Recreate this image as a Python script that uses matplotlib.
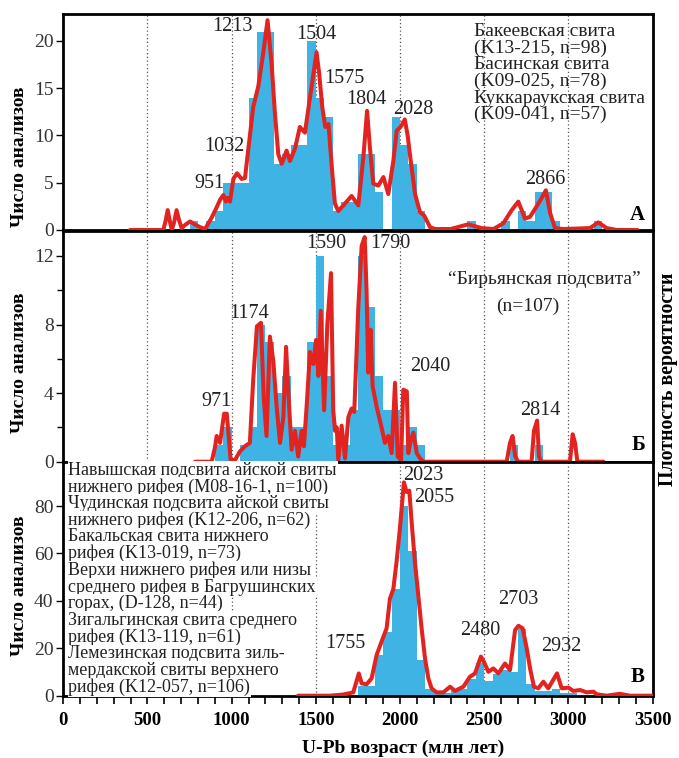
import matplotlib
matplotlib.use('Agg')
import matplotlib.pyplot as plt

# Шрифт с засечками, как в публикации
plt.rcParams['font.family'] = ['Liberation Serif', 'DejaVu Serif']

# ---------- Панель А: Бакеевская, Басинская, Куккараукская свиты ----------
a_bin_left = [750, 850, 900, 950, 1000, 1050, 1100, 1150, 1200, 1250, 1300, 1350,
              1400, 1450, 1500, 1550, 1600, 1650, 1700, 1750, 1800, 1850, 1950,
              2000, 2050, 2100, 2400, 2600, 2700, 2750, 2800, 2850, 2900, 3150]
a_counts = [1, 1, 2, 5, 5, 5, 14, 21, 21, 7, 8, 9,
            9, 20, 14, 12, 2, 3, 3, 8, 8, 4, 12,
            9, 7, 2, 1, 1, 2, 1, 4, 4, 1, 1]
a_kde_age = [396, 594, 608, 620, 632, 644, 658, 673, 688, 703, 728, 753, 780, 812,
             842, 881, 911, 931, 951, 965, 975, 990, 1010, 1032, 1059, 1079, 1105,
             1128, 1158, 1188, 1213, 1237, 1257, 1277, 1297, 1326, 1346, 1376, 1405,
             1435, 1465, 1504, 1520, 1538, 1556, 1575, 1593, 1613, 1633, 1663, 1712,
             1752, 1782, 1804, 1821, 1841, 1871, 1901, 1930, 1960, 1980, 2003, 2028,
             2045, 2062, 2089, 2118, 2144, 2178, 2207, 2300, 2405, 2484, 2554, 2613,
             2663, 2702, 2742, 2772, 2811, 2835, 2866, 2891, 2920, 2970, 3128, 3177,
             3227, 3286, 3410]
a_kde_val = [0, 0, 1.0, 2.1, 1.0, 0, 0.8, 2.1, 1.0, 0.2, 0.6, 0.9, 0.6, 0.3,
             0.1, 1.3, 2.4, 3.2, 3.7, 3.0, 3.4, 3.0, 5.4, 6.0, 5.4, 5.5, 9.5,
             13.0, 15.2, 18.8, 22.2, 17.6, 12.3, 8.0, 7.0, 8.4, 7.3, 8.6, 10.9,
             10.3, 14.0, 18.8, 16.5, 13.0, 10.9, 11.2, 7.0, 2.8, 2.0, 2.6, 3.6,
             2.6, 7.7, 12.6, 8.7, 4.9, 4.7, 5.6, 3.8, 7.3, 10.5, 10.9, 11.7,
             10.0, 7.5, 3.8, 1.9, 1.5, 0.3, 0.1, 0.1, 0.6, 0.2, 0.1, 0.7,
             2.1, 3.0, 1.2, 1.4, 2.5, 3.2, 4.2, 1.8, 0.2, 0.1, 0.2, 0.8,
             0.2, 0, 0]
a_peaks = ['951', '1032', '1213', '1504', '1575', '1804', '2028', '2866']
a_legend = ['Бакеевская свита', '(K13-215, n=98)', 'Басинская свита',
            '(K09-025, n=78)', 'Куккараукская свита', '(K09-041, n=57)']

# ---------- Панель Б: "Бирьянская подсвита" ----------
b_bin_left = [900, 950, 1050, 1100, 1150, 1200, 1250, 1300, 1350, 1400, 1450, 1500,
              1550, 1600, 1650, 1700, 1750, 1800, 1850, 1900, 1950, 2000, 2050, 2100,
              2650, 2800]
b_counts = [1, 2, 1, 2, 8, 7, 4, 5, 2, 2, 7, 12,
            5, 1, 1, 3, 12, 9, 5, 3, 3, 1, 2, 1,
            1, 1]
b_kde_age = [782, 881, 900, 911, 931, 955, 971, 994, 1020, 1049, 1079, 1108, 1128,
             1150, 1174, 1190, 1207, 1227, 1247, 1267, 1287, 1307, 1323, 1338, 1356,
             1376, 1395, 1415, 1429, 1445, 1465, 1485, 1501, 1515, 1529, 1549, 1568,
             1590, 1603, 1614, 1624, 1633, 1653, 1673, 1693, 1712, 1728, 1752, 1772,
             1790, 1801, 1811, 1825, 1837, 1861, 1890, 1910, 1930, 1950, 1970, 1986,
             2006, 2019, 2040, 2049, 2065, 2079, 2099, 2118, 2138, 2633, 2653, 2668,
             2684, 2702, 2781, 2795, 2814, 2825, 2840, 3009, 3025, 3039, 3053, 3208]
b_kde_val = [0, 0, 0.8, 1.5, 1.1, 2.8, 2.8, 0.1, 0.1, 0.6, 0.9, 1.1, 4.8,
             7.9, 8.1, 3.8, 1.5, 7.3, 5.9, 3.2, 1.1, 2.6, 6.7, 3.8, 0.7,
             1.8, 0.3, 1.8, 0.9, 3.2, 6.4, 5.7, 7.1, 5.0, 8.8, 3.0, 8.0,
             11.0, 3.0, 1.8, 2.0, 0.1, 2.1, 0.2, 2.6, 3.1, 2.9, 9.0, 12.6,
             13.1, 10.0, 5.2, 7.7, 4.4, 3.2, 2.0, 1.1, 1.5, 0.5, 4.6, 0.3,
             0.1, 4.2, 4.1, 0.5, 1.3, 1.7, 0.5, 0.2, 0, 0, 1.1, 1.5,
             0.3, 0, 0, 1.8, 2.4, 0.3, 0, 0, 1.6, 1.1, 0, 0]
b_peaks = ['971', '1174', '1590', '1790', '2040', '2814']

# ---------- Панель В: рифейские толщи ----------
v_bin_left = [1750, 1800, 1850, 1900, 1950, 2000, 2050, 2100, 2150, 2200, 2250, 2300,
              2350, 2400, 2450, 2500, 2550, 2600, 2650, 2700, 2750, 2800, 2850, 2900,
              2950, 3000]
v_counts = [4, 4, 17, 27, 45, 80, 61, 15, 3, 1, 1, 2,
            3, 7, 14, 6, 9, 11, 10, 28, 5, 2, 2, 3,
            1, 1]
v_kde_age = [1394, 1584, 1663, 1722, 1755, 1772, 1801, 1831, 1861, 1890, 1920, 1940,
             1960, 1980, 1999, 2023, 2038, 2055, 2069, 2088, 2108, 2128, 2148, 2168,
             2187, 2217, 2257, 2297, 2326, 2376, 2415, 2445, 2480, 2498, 2524, 2554,
             2584, 2623, 2653, 2683, 2703, 2728, 2752, 2772, 2795, 2821, 2851, 2880,
             2932, 2960, 3000, 3029, 3069, 3108, 3148, 3168, 3227, 3306, 3365, 3500]
v_kde_val = [0, 0, 0.5, 1.4, 9.4, 5.2, 4.8, 7.3, 17.2, 22.8, 28.4, 41,
             45, 57, 70.6, 90, 86, 86.5, 73, 56.5, 42.5, 28.4, 15.8, 7.3,
             3.1, 1.4, 1.4, 3.8, 2.0, 3.8, 8.0, 9.4, 16.5, 14.3, 10.1, 11.5,
             9.4, 13.6, 10.8, 27.7, 29.5, 28.4, 20, 11.5, 3.8, 3.1, 5.9, 3.1,
             9.4, 3.1, 3.4, 2.0, 2.4, 1.4, 1.7, 0.6, 0, 0.8, 0, 0]
v_peaks = ['1755', '2023', '2055', '2480', '2703', '2932']
v_legend = ['Навышская подсвита айской свиты',
            'нижнего рифея (M08-16-1, n=100)',
            'Чудинская подсвита айской свиты',
            'нижнего рифея (K12-206, n=62)',
            'Бакальская свита нижнего',
            'рифея (K13-019, n=73)',
            'Верхи нижнего рифея или низы',
            'среднего рифея в Багрушинских',
            'горах, (D-128, n=44)',
            'Зигальгинская свита среднего',
            'рифея (K13-119, n=61)',
            'Лемезинская подсвита зиль-',
            'мердакской свиты верхнего',
            'рифея (K12-057, n=106)']

bar_color = '#3fb4e4'
line_color = '#e2231f'
text_color = '#222222'

fig = plt.figure(figsize=(6.79, 7.58), dpi=100)
axA = fig.add_axes([0.0932, 0.6966, 0.868, 0.285])
axB = fig.add_axes([0.0932, 0.3909, 0.868, 0.3044])
axV = fig.add_axes([0.0932, 0.0822, 0.868, 0.3083])


def draw_panel(ax, bin_left, counts, kde_age, kde_val, ymax):
    # пунктирная сетка через 500 млн лет
    for g in range(500, 3500, 500):
        ax.axvline(g, color='#555555', lw=0.9, ls=(0, (1, 2)), zorder=0.5)
    ax.bar(bin_left, counts, width=50, align='edge', color=bar_color,
           linewidth=0, zorder=1)
    ax.plot(kde_age, kde_val, color=line_color, lw=2.9, zorder=3,
            solid_joinstyle='round', solid_capstyle='round')
    ax.set_xlim(0, 3500)
    ax.set_ylim(0, ymax)
    for s in ax.spines.values():
        s.set_linewidth(2.0)
    ax.tick_params(axis='y', direction='out', length=5, width=1,
                   labelsize=14, labelcolor='#333333', pad=2)


draw_panel(axA, a_bin_left, a_counts, a_kde_age, a_kde_val, 22.86)
draw_panel(axB, b_bin_left, b_counts, b_kde_age, b_kde_val, 13.46)
draw_panel(axV, v_bin_left, v_counts, v_kde_age, v_kde_val, 98.6)

axA.set_yticks([0, 5, 10, 15, 20])
axB.set_yticks([0, 4, 8, 12])
axB.set_yticks([2, 6, 10], minor=True)
axB.tick_params(axis='y', which='minor', direction='out', length=4, width=1)
axV.set_yticks([0, 20, 40, 60, 80])

for ax in (axA, axB):
    ax.set_xticks([])

axV.set_xticks(range(0, 3501, 500))
axV.set_xticks(range(0, 3501, 100), minor=True)
axV.tick_params(axis='x', which='both', direction='out', length=6, width=1.2)
axV.tick_params(axis='x', which='major', labelsize=13.5, pad=6)
for lbl in axV.get_xticklabels():
    lbl.set_fontweight('bold')

# подписи пиков
a_pos = [(866, 4.9), (954, 8.8), (1005, 21.5), (1500, 20.7), (1667, 16.0),
         (1802, 13.8), (2079, 12.7), (2860, 5.3)]
for t, (x, y) in zip(a_peaks, a_pos):
    axA.text(x, y, t, ha='center', va='center', fontsize=14.5, color=text_color, zorder=4)

b_pos = [(907, 3.5), (1103, 8.66), (1563, 12.7), (1940, 12.7), (2178, 5.54), (2831, 3.0)]
for t, (x, y) in zip(b_peaks, b_pos):
    axB.text(x, y, t, ha='center', va='center', fontsize=14.5, color=text_color, zorder=4)

v_pos = [(1673, 22.1), (2138, 93.0), (2204, 83.5), (2475, 27.3), (2703, 40.4), (2958, 20.7)]
for t, (x, y) in zip(v_peaks, v_pos):
    axV.text(x, y, t, ha='center', va='center', fontsize=14.5, color=text_color, zorder=4)

# подписи проб
for i, t in enumerate(a_legend):
    axA.text(2439, 21.0 - i * 1.76, t, ha='left', va='center', fontsize=14,
             color=text_color)
axB.text(2854, 10.6, '\u201cБирьянская подсвита\u201d', ha='center', va='center',
         fontsize=14, color=text_color)
axB.text(2757, 9.04, '(n=107)', ha='center', va='center', fontsize=14, color=text_color)
for i, t in enumerate(v_legend):
    axV.text(30, 95.2 - i * 7.05, t, ha='left', va='center', fontsize=13,
             color=text_color, zorder=5,
             bbox=dict(facecolor='white', edgecolor='none', pad=0.5))

# буквенные обозначения панелей
axA.text(3410, 1.6, 'А', ha='center', va='center', fontsize=15, fontweight='bold')
axB.text(3416, 0.97, 'Б', ha='center', va='center', fontsize=15, fontweight='bold')
axV.text(3413, 8.0, 'В', ha='center', va='center', fontsize=15, fontweight='bold')

# подписи осей
for yc in (157, 363, 586):
    fig.text(20 / 679, 1 - yc / 758, 'Число анализов', rotation=90, ha='center',
             va='center', fontsize=14, fontweight='bold')
fig.text(668 / 679, 1 - 379 / 758, 'Плотность вероятности', rotation=90, ha='center',
         va='center', fontsize=14.3, fontweight='bold')
fig.text(403 / 679, 1 - 748 / 758, 'U-Pb возраст (млн лет)', ha='center', va='center',
         fontsize=14, fontweight='bold')

plt.savefig('out.png', dpi=100)
